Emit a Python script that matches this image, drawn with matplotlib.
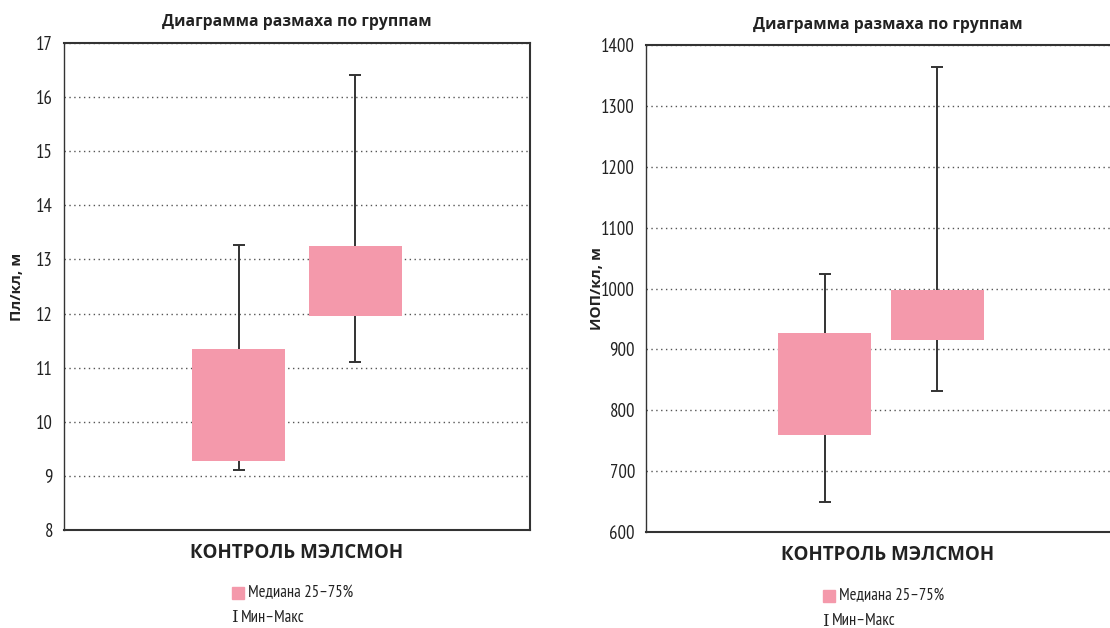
import matplotlib
matplotlib.use('Agg')
import matplotlib.pyplot as plt
import matplotlib.patches as mptch

# data
groups = ['Контроль', 'МЭЛСМОН']
pl_q1 = [9.27, 11.95]
pl_q3 = [11.35, 13.25]
pl_min = [9.11, 11.10]
pl_max = [13.27, 16.41]

iop_q1 = [760, 916]
iop_q3 = [927, 998]
iop_min = [650, 832]
iop_max = [1024, 1364]

title = 'Диаграмма размаха по группам'
xlab = 'КОНТРОЛЬ МЭЛСМОН'
leg_box = 'Медиана 25–75%'
leg_wh = 'Мин–Макс'

pink = '#F499AB'
dark = '#333333'
bold_font = ['Open Sans', 'DejaVu Sans']
narrow_font = ['PT Sans Narrow', 'Fira Sans Condensed', 'DejaVu Sans']

W, H = 1110, 628
fig = plt.figure(figsize=(W / 100, H / 100), dpi=100)


def px_axes(x0, y0, x1, y1):
    return fig.add_axes([x0 / W, 1 - y1 / H, (x1 - x0) / W, (y1 - y0) / H])


def draw_panel(ax, q1, q3, mn, mx, ylim, yticks, xlim, pos, width, ylabel):
    mid = [(a + b) / 2 for a, b in zip(mn, mx)]
    ax.errorbar(pos, mid, yerr=[[m - a for m, a in zip(mid, mn)], [b - m for m, b in zip(mid, mx)]],
                fmt='none', ecolor=dark, elinewidth=1.4, capsize=4, capthick=1.4, zorder=2)
    ax.bar(pos, [b - a for a, b in zip(q1, q3)], bottom=q1, width=width, color=pink, zorder=3)
    ax.set_ylim(ylim)
    ax.set_xlim(xlim)
    ax.set_yticks(yticks)
    ax.set_xticks([])
    ax.yaxis.grid(True, linestyle=(0, (1, 2.5)), color='#555555', linewidth=1.0)
    ax.set_axisbelow(True)
    ax.tick_params(axis='y', length=0, pad=8)
    for lab in ax.get_yticklabels():
        lab.set_family(narrow_font)
        lab.set_fontsize(13.5)
        lab.set_color('#222222')
    for s in ax.spines.values():
        s.set_color(dark)
        s.set_linewidth(1.5)
    ax.spines['left'].set_linewidth(1.0)
    ax.set_ylabel(ylabel, family=bold_font, fontweight='bold', fontsize=11, color='#222222')


# left panel
ax1 = px_axes(64, 43, 530, 530)
draw_panel(ax1, pl_q1, pl_q3, pl_min, pl_max, (8, 17), range(8, 18),
           (0, 4), [1.5, 2.5], 0.8, 'Пл/кл, м')
ax1.yaxis.set_label_coords(-40 / 466, 0.5)

# right panel, right edge is cut off by the figure border
ax2 = px_axes(646, 45, 1116, 532)
draw_panel(ax2, iop_q1, iop_q3, iop_min, iop_max, (600, 1400), range(600, 1500, 100),
           (-0.08, 4.08), [1.5, 2.5], 0.82, 'ИОП/кл, м')
ax2.yaxis.set_label_coords(-42 / 470, 0.5)

# titles, x labels and legends
for cx, ty, xy, ly in [(297, 22, 553, 593), (888, 25, 555, 596)]:
    fig.text(cx / W, 1 - ty / H, title, ha='center', va='center',
             family=bold_font, fontweight='bold', fontsize=11.3, color='#222222')
    fig.text(cx / W, 1 - xy / H, xlab, ha='center', va='center',
             family=bold_font, fontweight='bold', fontsize=13.5, color='#222222')
    sx = cx - 65
    fig.patches.append(mptch.Rectangle((sx / W, 1 - (ly + 6) / H), 12 / W, 12 / H,
                                       transform=fig.transFigure, color=pink))
    fig.text((sx + 16) / W, 1 - ly / H, leg_box, ha='left', va='center',
             family=narrow_font, fontsize=12, color='#222222')
    fig.text((sx - 1) / W, 1 - (ly + 25) / H, 'I', ha='left', va='center',
             family='DejaVu Serif', fontsize=12, color='#222222')
    fig.text((sx + 9) / W, 1 - (ly + 25) / H, leg_wh, ha='left', va='center',
             family=narrow_font, fontsize=12, color='#222222')

fig.savefig('out.png', dpi=100)
